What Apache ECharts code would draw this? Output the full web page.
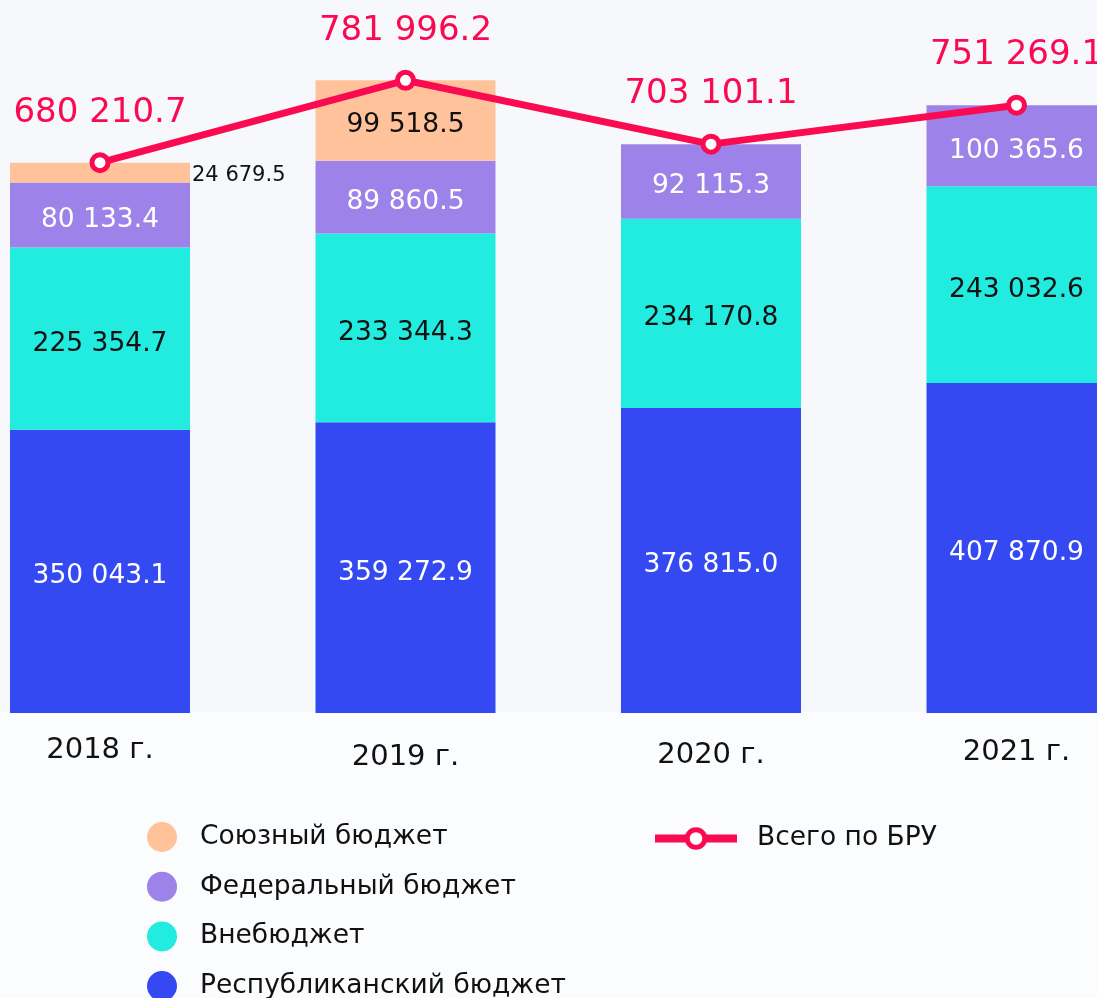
<!DOCTYPE html>
<html>
<head>
<meta charset="utf-8">
<script src="https://cdn.jsdelivr.net/npm/echarts@6/dist/echarts.min.js"></script>
<style>
html,body{margin:0;padding:0;background:#FBFCFE;}
#c{width:1097px;height:998px;}
</style>
</head>
<body>
<div id="c"></div>
<script>
const categories = ['2018 г.', '2019 г.', '2020 г.', '2021 г.'];
const republican = [350043.1, 359272.9, 376815.0, 407870.9];
const offBudget = [225354.7, 233344.3, 234170.8, 243032.6];
const federal = [80133.4, 89860.5, 92115.3, 100365.6];
const union = [24679.5, 99518.5, null, null];
const total = [680210.7, 781996.2, 703101.1, 751269.1];
const labelShift = [0, 7, 5, 2];

const FONT = '"DejaVu Sans", sans-serif';
const fmt = v => {
  const s = v.toFixed(1);
  const [i, d] = s.split('.');
  return i.replace(/\B(?=(\d{3})+(?!\d))/g, ' ') + '.' + d;
};

const chart = echarts.init(document.getElementById('c'));
const barCommon = (name, data, color, labelColor) => ({
  name, type: 'bar', stack: 'a', data, barWidth: 180, clip: false,
  itemStyle: { color },
  label: {
    show: true, position: 'inside', offset: [0, 5], color: labelColor, fontSize: 26.5, fontFamily: FONT,
    formatter: p => p.value == null ? '' : fmt(p.value)
  }
});

const unionSeries = barCommon('Союзный бюджет', union.map((v, i) => {
  if (v == null) return null;
  if (i === 0) return { value: v, label: { position: 'right', distance: 2, offset: [0, 3], fontSize: 21, color: '#111' } };
  return v;
}), '#FFC29B', '#111');

chart.setOption({
  backgroundColor: '#FBFCFE',
  animation: false,
  graphic: [{ type: 'rect', z: -100, silent: true, shape: { x: 0, y: 0, width: 1097, height: 712 }, style: { fill: '#F6F8FC' } }],
  grid: { left: 100, right: 80.5, top: 1, bottom: 285 },
  xAxis: {
    type: 'category', boundaryGap: false,
    data: categories.map((c, i) => ({ value: c, textStyle: { padding: [labelShift[i], 0, 0, 0] } })),
    axisLine: { show: false }, axisTick: { show: false },
    axisLabel: { color: '#111', fontSize: 29, fontFamily: FONT, margin: 23 }
  },
  yAxis: { type: 'value', min: 0, max: 880000, show: false, splitLine: { show: false } },
  legend: [
    {
      orient: 'vertical', left: 142, top: 817, height: 200, itemWidth: 30, itemHeight: 30, itemGap: 19.7,
      icon: 'circle',
      textStyle: { fontSize: 26.5, color: '#111', fontFamily: FONT, padding: [0, 0, 0, 18] },
      data: ['Союзный бюджет', 'Федеральный бюджет', 'Внебюджет', 'Республиканский бюджет']
    },
    {
      left: 646, top: 820, itemWidth: 82, itemHeight: 22,
      lineStyle: { width: 8 },
      itemStyle: { borderWidth: 5 },
      textStyle: { fontSize: 26.5, color: '#111', fontFamily: FONT, padding: [0, 0, 0, 15] },
      data: ['Всего по БРУ']
    }
  ],
  series: [
    barCommon('Республиканский бюджет', republican, '#3449F2', '#fff'),
    barCommon('Внебюджет', offBudget, '#22EBDF', '#111'),
    barCommon('Федеральный бюджет', federal, '#9D83E9', '#fff'),
    unionSeries,
    {
      name: 'Всего по БРУ', type: 'line', data: total, z: 10, clip: false,
      lineStyle: { color: '#FA0A50', width: 7 },
      itemStyle: { color: '#fff', borderColor: '#FA0A50', borderWidth: 5 },
      symbol: 'circle', symbolSize: 16, showAllSymbol: true,
      label: { show: true, position: 'top', distance: 22, color: '#FA0A50', fontSize: 34, fontFamily: FONT, formatter: p => fmt(p.value) }
    }
  ]
});
</script>
</body>
</html>
